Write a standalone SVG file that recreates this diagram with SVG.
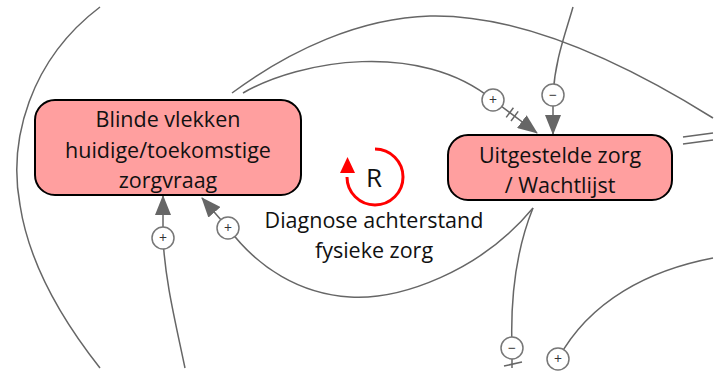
<svg xmlns="http://www.w3.org/2000/svg" width="719" height="375" viewBox="0 0 719 375">
<style>
.node{fill:#ff9f9f;stroke:#000;stroke-width:2}
.lbl{font-family:"Open Sans","Noto Sans",sans-serif;font-size:21.5px;fill:#111;text-anchor:middle}
.edge{fill:none;stroke:#666;stroke-width:1.5}
.pol{fill:#fff;stroke:#777;stroke-width:1.5}
.sign{font-family:"Open Sans","Noto Sans",sans-serif;font-size:14px;fill:#333;text-anchor:middle}
</style>
<defs>
<marker id="arr" markerUnits="userSpaceOnUse" viewBox="0 0 20 16" refX="19" refY="8" markerWidth="20" markerHeight="16" orient="auto">
<path d="M0,0 L20,8 L0,16 z" fill="#666"/>
</marker>
</defs>
<rect width="719" height="375" fill="#fff"/>
<g id="connectors">
<path class="edge" d="M100,7 C30,60 8,140 20,205 C30,270 70,330 100,368"/>
<path class="edge" d="M232,93 C290,50 360,18 430,16 C520,14 620,60 713,118"/>
<path class="edge" d="M243,93 C300,60 420,40 493,100 L537,133" marker-end="url(#arr)"/>
<path class="edge" d="M506.2,117.4 L513.4,107.8 M511,121 L518.2,111.4"/>
<path class="edge" d="M573,7 C565,35 555,60 553,95 L553,134" marker-end="url(#arr)"/>
<path class="edge" d="M683,137 L713,133 M683,144 L713,140"/>
<path class="edge" d="M533,208 C480,272 400,300 350,297 C300,294 258,268 228,228 L202,198" marker-end="url(#arr)"/>
<path class="edge" d="M533,208 C518,245 510,290 512,348 L512,368"/>
<path class="edge" d="M504,366 L522,362"/>
<path class="edge" d="M713,258 C650,270 590,300 558,359"/>
<path class="edge" d="M185,368 C175,320 165,280 163,238 L163,196" marker-end="url(#arr)"/>
<circle class="pol" cx="493" cy="100" r="11"/><text class="sign" x="493" y="105">+</text>
<circle class="pol" cx="553" cy="95" r="11"/><text class="sign" x="553" y="100">−</text>
<circle class="pol" cx="228" cy="228" r="11"/><text class="sign" x="228" y="233">+</text>
<circle class="pol" cx="163" cy="238" r="11"/><text class="sign" x="163" y="243">+</text>
<circle class="pol" cx="512" cy="348" r="11"/><text class="sign" x="512" y="353">−</text>
<circle class="pol" cx="558" cy="359" r="11"/><text class="sign" x="558" y="364">+</text>
</g>
<g id="node-blinde-vlekken">
<rect class="node" x="35" y="100" width="266" height="95" rx="20"/>
<text class="lbl" x="168" y="127">Blinde vlekken</text>
<text class="lbl" x="168" y="157.5">huidige/toekomstige</text>
<text class="lbl" x="168" y="188">zorgvraag</text>
</g>
<g id="node-uitgestelde-zorg">
<rect class="node" x="448" y="135" width="224" height="65" rx="20"/>
<text class="lbl" x="560" y="163">Uitgestelde zorg</text>
<text class="lbl" x="560" y="193">/ Wachtlijst</text>
</g>
<g id="loop-R">
<path d="M375,149 A28,28 0 1 1 347,177" fill="none" stroke="#f00" stroke-width="3"/>
<path d="M340,173 L347.5,157 L355,173 z" fill="#f00"/>
<text x="374" y="187" font-family="Open Sans, Noto Sans, sans-serif" font-size="26" fill="#111" text-anchor="middle">R</text>
<text class="lbl" x="374" y="228">Diagnose achterstand</text>
<text class="lbl" x="374" y="258">fysieke zorg</text>
</g>
</svg>
